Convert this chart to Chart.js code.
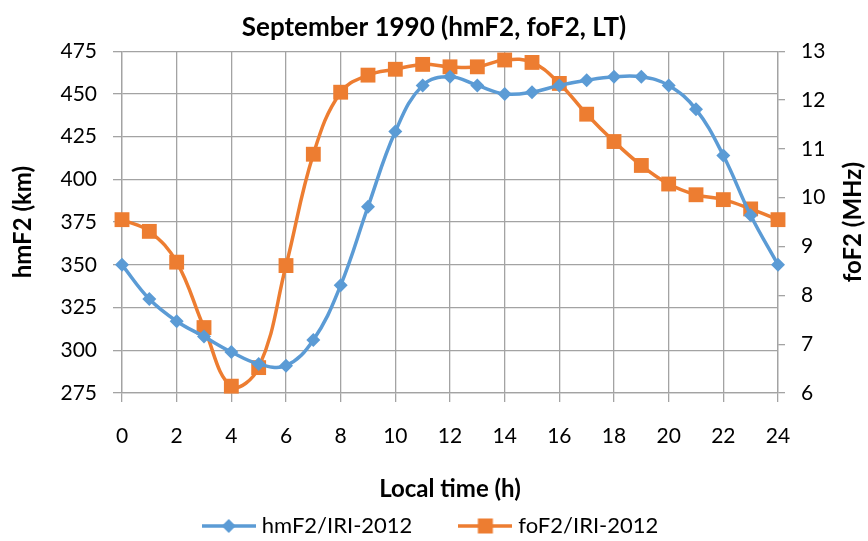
<!DOCTYPE html>
<html>
<head>
<meta charset="utf-8">
<title>September 1990 (hmF2, foF2, LT)</title>
<script src="https://cdn.jsdelivr.net/npm/chart.js@4.4.1/dist/chart.umd.min.js"></script>
<style>
  html, body { margin: 0; padding: 0; background: #ffffff; }
  #wrap { width: 868px; height: 541px; }
</style>
</head>
<body>
<div id="wrap"><canvas id="ionoChart" width="868" height="541"></canvas></div>
<script>
// local time, hours
const hours = [0, 1, 2, 3, 4, 5, 6, 7, 8, 9, 10, 11, 12, 13, 14, 15, 16, 17, 18, 19, 20, 21, 22, 23, 24];
// peak height of the F2 layer, km (left axis)
const hmF2 = [350, 330, 317, 308, 299, 292, 291, 306, 338, 384, 428, 455, 460, 455, 450, 451, 455, 458, 460, 460, 455, 441, 414, 379, 350];
// critical frequency of the F2 layer, MHz (right axis)
const foF2 = [9.55, 9.31, 8.68, 7.34, 6.14, 6.52, 8.61, 10.89, 12.16, 12.51, 12.63, 12.73, 12.68, 12.68, 12.82, 12.77, 12.34, 11.71, 11.15, 10.66, 10.28, 10.06, 9.96, 9.77, 9.55];
const seriesNames = ['hmF2/IRI-2012', 'foF2/IRI-2012'];

const BLUE = '#5b9bd5';
const ORANGE = '#ed7d31';
const GRID = '#a3a3a3';
const FONT = 'Lato, "Open Sans", sans-serif';

Chart.defaults.font.family = FONT;
Chart.defaults.font.size = 21;
Chart.defaults.color = '#000000';

// line + marker swatch for the legend
function legendIcon(color, marker) {
  const c = document.createElement('canvas');
  c.width = 54;
  c.height = 18;
  const g = c.getContext('2d');
  g.strokeStyle = color;
  g.lineWidth = 3.5;
  g.beginPath();
  g.moveTo(0, 9);
  g.lineTo(54, 9);
  g.stroke();
  g.fillStyle = color;
  if (marker === 'rect') {
    g.fillRect(27 - 7.5, 9 - 7.5, 15, 15);
  } else {
    g.beginPath();
    g.moveTo(27, 2);
    g.lineTo(34, 9);
    g.lineTo(27, 16);
    g.lineTo(20, 9);
    g.closePath();
    g.fill();
  }
  return c;
}
const icons = [legendIcon(BLUE, 'rectRot'), legendIcon(ORANGE, 'rect')];

// secondary axis title, reading bottom to top
const rightAxisTitle = {
  id: 'rightAxisTitle',
  afterDraw(chart) {
    const {ctx, chartArea} = chart;
    const s = chart.scales.y1;
    ctx.save();
    ctx.translate(s.right - 15, (chartArea.top + chartArea.bottom) / 2);
    ctx.rotate(-Math.PI / 2);
    ctx.font = 'bold 24px ' + FONT;
    ctx.fillStyle = '#000000';
    ctx.textAlign = 'center';
    ctx.textBaseline = 'middle';
    ctx.fillText('foF2 (MHz)', 0, 0);
    ctx.restore();
  }
};

// one-row legend under the x axis title
const bottomLegend = {
  id: 'bottomLegend',
  afterDraw(chart) {
    const {ctx} = chart;
    const textGap = 6;
    const itemGap = 46;
    ctx.save();
    ctx.font = '22px ' + FONT;
    const widths = chart.data.datasets.map((ds, i) => icons[i].width + textGap + ctx.measureText(ds.label).width);
    const total = widths.reduce((a, b) => a + b, 0) + itemGap * (widths.length - 1);
    let x = chart.width / 2 - total / 2 - 4;
    const y = chart.height - 15;
    ctx.fillStyle = '#000000';
    ctx.textAlign = 'left';
    ctx.textBaseline = 'middle';
    chart.data.datasets.forEach((ds, i) => {
      ctx.drawImage(icons[i], x, y - icons[i].height / 2);
      ctx.fillText(ds.label, x + icons[i].width + textGap, y);
      x += widths[i] + itemGap;
    });
    ctx.restore();
  }
};

new Chart('ionoChart', {
  type: 'line',
  data: {
    datasets: [{
      label: seriesNames[0],
      data: hours.map((h, i) => ({x: h, y: hmF2[i]})),
      yAxisID: 'y',
      borderColor: BLUE,
      backgroundColor: BLUE,
      borderWidth: 3.5,
      pointStyle: 'rectRot',
      pointRadius: 7,
      pointBorderWidth: 0,
      tension: 0.4,
      clip: false
    }, {
      label: seriesNames[1],
      data: hours.map((h, i) => ({x: h, y: foF2[i]})),
      yAxisID: 'y1',
      borderColor: ORANGE,
      backgroundColor: ORANGE,
      borderWidth: 3.5,
      pointStyle: 'rect',
      pointRadius: 10.5,
      pointBorderWidth: 0,
      tension: 0.4,
      clip: false
    }]
  },
  options: {
    responsive: false,
    animation: false,
    layout: {padding: {top: 0, right: 0, bottom: 37, left: 0}},
    scales: {
      x: {
        type: 'linear',
        min: 0,
        max: 24,
        ticks: {stepSize: 2, padding: 22},
        grid: {color: GRID, lineWidth: 1.3, tickLength: 9},
        border: {color: GRID, width: 1.3},
        title: {display: true, text: 'Local time (h)', font: {weight: 'bold', size: 24}, padding: {top: 0, bottom: 0}},
        afterFit(s) { s.height = 111; }
      },
      y: {
        position: 'left',
        min: 275,
        max: 475,
        ticks: {stepSize: 25, padding: 16},
        grid: {color: GRID, lineWidth: 1.3, tickLength: 9},
        border: {color: GRID, width: 1.3},
        title: {display: true, text: 'hmF2 (km)', font: {weight: 'bold', size: 24}, padding: {top: 9, bottom: 0}},
        afterFit(s) { s.width = 122; }
      },
      y1: {
        position: 'right',
        min: 6,
        max: 13,
        ticks: {stepSize: 1, padding: 16},
        grid: {drawOnChartArea: false, color: GRID, lineWidth: 1.3, tickLength: 7},
        border: {color: GRID, width: 1.3},
        afterFit(s) { s.width = 90; }
      }
    },
    plugins: {
      title: {
        display: true,
        text: 'September 1990 (hmF2, foF2, LT)',
        font: {weight: 'bold', size: 26},
        padding: {top: 12, bottom: 8}
      },
      legend: {display: false},
      tooltip: {enabled: false}
    }
  },
  plugins: [rightAxisTitle, bottomLegend]
});
</script>
</body>
</html>
